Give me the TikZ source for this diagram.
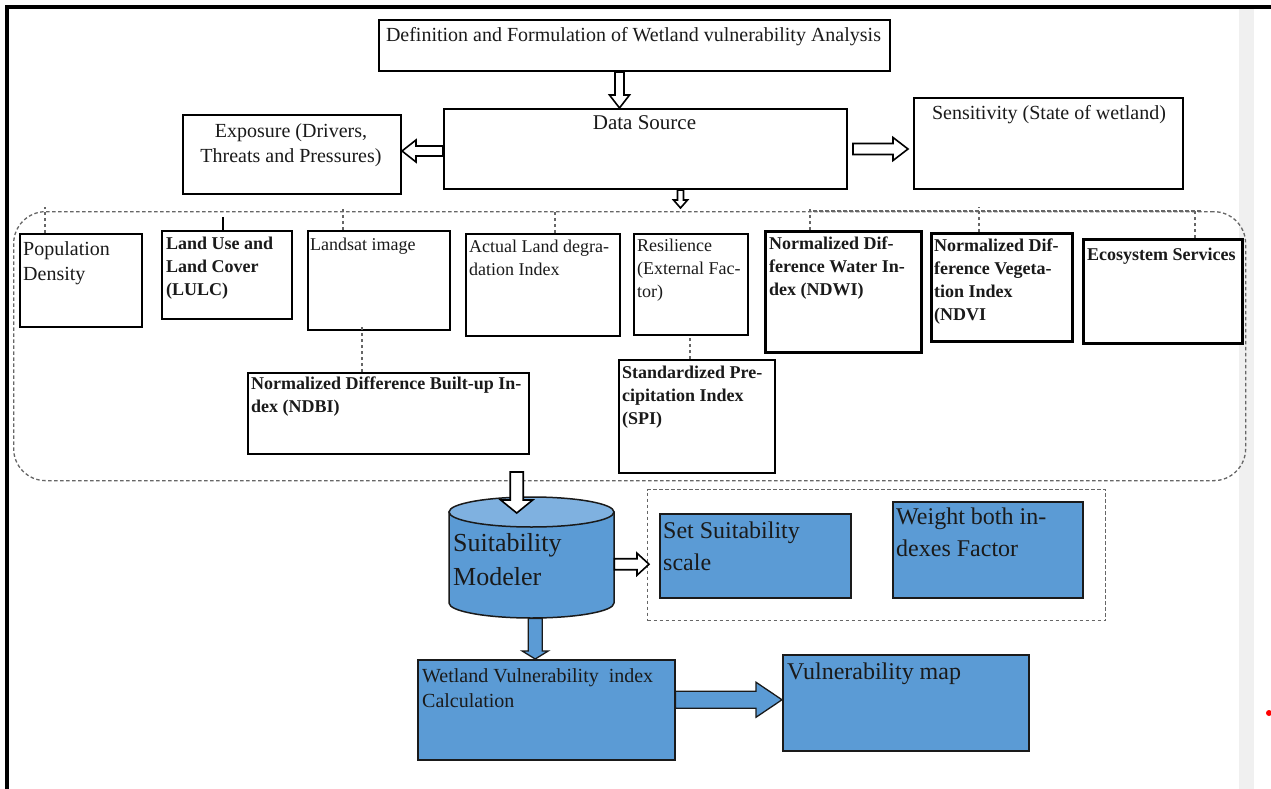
\documentclass[tikz,border=0pt]{standalone}
\usepackage{fontspec}
\setmainfont{Liberation Serif}
\usetikzlibrary{calc}
\definecolor{mblue}{HTML}{5B9BD5}
\definecolor{lblue}{HTML}{7FB1E0}
\definecolor{dgray}{HTML}{666666}
\definecolor{bdr}{HTML}{1A1A1A}
\definecolor{txt}{HTML}{1A1A1A}
\newcommand\blockarrow[6]{%
  \coordinate (bab) at ($(#3)!#6!(#2)$);
  \draw[#1] ($(#2)!#4!90:(#3)$) -- ($(bab)!#4!90:(#3)$) -- ($(bab)!#5!90:(#3)$) -- (#3)
    -- ($(bab)!#5!-90:(#3)$) -- ($(bab)!#4!-90:(#3)$) -- ($(#2)!#4!-90:(#3)$) -- cycle;}
\begin{document}
\begin{tikzpicture}[x=1pt,y=-1pt,
  bx/.style={draw=black, line width=2pt, inner sep=0pt, anchor=north west, fill=white},
  bbx/.style={draw=bdr, line width=1.5pt, inner sep=0pt, anchor=north west, fill=mblue},
  tx/.style={anchor=north west, inner sep=0pt, align=left, text=txt},
  ctx/.style={anchor=north, inner sep=0pt, align=center, text=txt},
  dsh/.style={draw=dgray, line width=1.3pt, dash pattern=on 3.5pt off 2.5pt},
  harrow/.style={draw=black, line width=1.6pt, fill=white, line join=miter},
  barrow/.style={draw=bdr, line width=1.3pt, fill=mblue, line join=miter},
  f18/.style={font=\fontsize{18}{23}\selectfont},
  b18/.style={font=\fontsize{18}{23}\selectfont\bfseries},
  f20/.style={font=\fontsize{20}{25}\selectfont},
  f24/.style={font=\fontsize{24}{31.5}\selectfont}]
\useasboundingbox (0,0) rectangle (1271,789);
\fill[white] (0,0) rectangle (1271,789);
\fill[gray!12] (1239,9) rectangle (1254,789);
\draw[line width=3.5pt] (7,789) -- (7,7) -- (1271,7);
\fill[red] (1269,713) circle[radius=3];

% groups
\node[dsh, rounded corners=32pt, inner sep=0pt, anchor=north west, minimum width=1232, minimum height=269] (grp) at (13,211) {};
\node[dsh, inner sep=0pt, anchor=north west, minimum width=458, minimum height=131] (grp2) at (647,489) {};

% top boxes
\node[bx, minimum width=511, minimum height=51] (def) at (378,19) {};
\node[bx, minimum width=403, minimum height=80] (ds) at (443,108) {};
\node[bx, minimum width=218, minimum height=79] (exp) at (182,114) {};
\node[bx, minimum width=269, minimum height=91] (sens) at (913,97) {};

% row boxes
\node[bx, minimum width=122, minimum height=93] (pop) at (19,233) {};
\node[bx, minimum width=130, minimum height=88] (lulc) at (161,230) {};
\node[bx, minimum width=142, minimum height=99] (lsat) at (307,230) {};
\node[bx, minimum width=154, minimum height=102] (ald) at (465,233) {};
\node[bx, minimum width=114, minimum height=101] (res) at (633,233) {};
\node[bx, line width=2.5pt, minimum width=156, minimum height=121] (ndwi) at (764,230) {};
\node[bx, line width=2.5pt, minimum width=141, minimum height=108] (ndvi) at (930,232) {};
\node[bx, line width=2.5pt, minimum width=159, minimum height=104] (eco) at (1082,238) {};
\node[bx, minimum width=281, minimum height=81] (ndbi) at (247,372) {};
\node[bx, minimum width=156, minimum height=113] (spi) at (618,359) {};

% bottom boxes
\node[bbx, minimum width=191, minimum height=84] (ssc) at (659,513) {};
\node[bbx, minimum width=190, minimum height=96] (wgt) at (892,501) {};
\node[bbx, minimum width=257, minimum height=100] (wvi) at (417,659) {};
\node[bbx, minimum width=246, minimum height=96] (vmap) at (782,654) {};

% cylinder
\node[inner sep=0pt, anchor=north west, minimum width=165, minimum height=121] (cyl) at (449,497) {};
\draw[bdr, line width=1.5pt, fill=mblue] (449,512) -- (449,603)
  arc[start angle=180, end angle=0, x radius=82.5, y radius=15] -- (614,512) -- cycle;
\draw[bdr, line width=1.5pt, fill=lblue] (531.5,512) ellipse[x radius=82.5, y radius=15];

% connectors from the group line
\coordinate (k1) at ($(pop.north west)+(26,0)$);
\draw[dsh] (k1) -- ($(k1 |- grp.north)+(0,-4)$);
\coordinate (k2) at ($(lulc.north west)+(62,0)$);
\draw[line width=1.5pt] (k2) -- ($(k2 |- grp.north)+(0,6)$);
\coordinate (k3) at ($(lsat.north west)+(36,0)$);
\draw[dsh] (k3) -- ($(k3 |- grp.north)+(0,-2)$);
\coordinate (k4) at ($(ald.north west)+(90,0)$);
\draw[dsh] (k4) -- (k4 |- grp.north);
\coordinate (k5) at ($(ndwi.north west)+(46,0)$);
\draw[dsh] (k5) -- ($(k5 |- grp.north)+(0,-4)$);
\coordinate (k6) at ($(ndvi.north west)+(49,0)$);
\draw[dsh] (k6) -- ($(k6 |- grp.north)+(0,-4)$);
\coordinate (k7) at ($(eco.north west)+(113,0)$);
\draw[dsh] (k7) -- (k7 |- grp.north);
\draw[dsh, dash phase=3pt] (k5 |- grp.north) -- ($(grp.north east)+(-45,0)$);
\coordinate (k8) at ($(ndbi.north west)+(115,0)$);
\draw[dsh] (k8) -- ($(k8 |- lsat.south)+(0,-6)$);
\coordinate (k9) at ($(spi.north west)+(72,0)$);
\draw[dsh] (k9) -- (k9 |- res.south);

% arrows
\coordinate (a1s) at ($(def.south)+(-15,0)$);
\coordinate (a1e) at (a1s |- ds.north);
\blockarrow{harrow}{a1s}{a1e}{4.5pt}{10pt}{13pt}
\coordinate (a2s) at ($(ds.west)+(0,2)$);
\coordinate (a2e) at (exp.east |- a2s);
\blockarrow{harrow}{a2s}{a2e}{5pt}{11pt}{14pt}
\coordinate (a3s) at ($(ds.east)+(5,0)$);
\coordinate (a3e) at ($(sens.west |- ds.east)+(-5,0)$);
\blockarrow{harrow}{a3s}{a3e}{5.5pt}{11.5pt}{15pt}
\coordinate (a4s) at ($(ds.south)+(35,0)$);
\coordinate (a4e) at ($(a4s |- grp.north)+(0,-3)$);
\blockarrow{harrow}{a4s}{a4e}{3pt}{7pt}{8pt}
\coordinate (a5s) at ($(cyl.north)+(-15,-25)$);
\coordinate (a5e) at ($(cyl.north)+(-15,16)$);
\blockarrow{harrow}{a5s}{a5e}{6.5pt}{16pt}{13pt}
\coordinate (a6s) at ($(cyl.east)+(0,6.5)$);
\coordinate (a6e) at ($(grp2.west |- a6s)+(2,0)$);
\blockarrow{harrow}{a6s}{a6e}{5.5pt}{11pt}{12pt}
\coordinate (a7s) at ($(cyl.south)+(3.5,0)$);
\coordinate (a7e) at (a7s |- wvi.north);
\blockarrow{barrow}{a7s}{a7e}{7pt}{13pt}{8pt}
\coordinate (a8s) at ($(wvi.east)+(0,-10)$);
\coordinate (a8e) at (vmap.west |- a8s);
\blockarrow{barrow}{a8s}{a8e}{8.5pt}{17.5pt}{26pt}

% texts
\node[ctx, f20] (tdef) at ($(def.north)+(-1,8)$) {Definition and Formulation of Wetland vulnerability Analysis};
\node[ctx, f20] (texp) at ($(exp.north)+(-1,9)$) {Exposure (Drivers,\\Threats and Pressures)};
\node[ctx, font=\fontsize{21}{26}\selectfont] (tds) at ($(ds.north)+(-1,7)$) {Data Source};
\node[ctx, f20] (tsens) at ($(sens.north)+(0.5,8)$) {Sensitivity (State of wetland)};

\node[tx, f20] (tpop) at ($(pop.north west)+(4,8)$) {Population\\Density};
\node[tx, b18] (tlulc) at ($(lulc.north west)+(5,7)$) {Land Use and\\Land Cover\\(LULC)};
\node[tx, f18] (tlsat) at ($(lsat.north west)+(3,8)$) {Landsat image};
\node[tx, f18] (tald) at ($(ald.north west)+(4,7)$) {Actual Land degra-\\dation Index};
\node[tx, f18] (tres) at ($(res.north west)+(4,6)$) {Resilience\\(External Fac-\\tor)};
\node[tx, b18] (tndwi) at ($(ndwi.north west)+(5,7)$) {Normalized Dif-\\ference Water In-\\dex (NDWI)};
\node[tx, b18] (tndvi) at ($(ndvi.north west)+(4,7)$) {Normalized Dif-\\ference Vegeta-\\tion Index\\(NDVI};
\node[tx, b18] (teco) at ($(eco.north west)+(5,10)$) {Ecosystem Services};
\node[tx, b18] (tndbi) at ($(ndbi.north west)+(4,5)$) {Normalized Difference Built-up In-\\dex (NDBI)};
\node[tx, b18] (tspi) at ($(spi.north west)+(4,7)$) {Standardized Pre-\\cipitation Index\\(SPI)};

\node[tx, font=\fontsize{26}{34}\selectfont] (tcyl) at ($(cyl.north west)+(4,36)$) {Suitability\\Modeler};
\node[tx, f24] (tssc) at ($(ssc.north west)+(4,9)$) {Set Suitability\\scale};
\node[tx, f24] (twgt) at ($(wgt.north west)+(4,7)$) {Weight both in-\\dexes Factor};
\node[tx, f20] (twvi) at ($(wvi.north west)+(5,9)$) {Wetland Vulnerability\ \ index\\Calculation};
\node[tx, f24] (tvmap) at ($(vmap.north west)+(5,9)$) {Vulnerability map};
\end{tikzpicture}
\end{document}
